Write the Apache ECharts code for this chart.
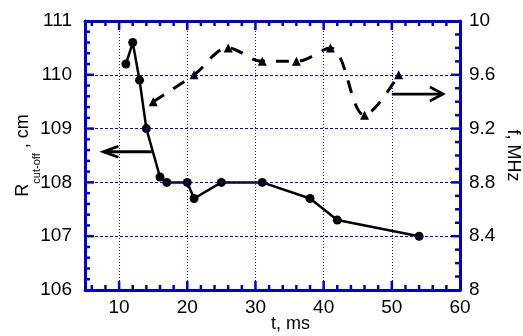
<!DOCTYPE html>
<html>
<head>
<meta charset="utf-8">
<script src="https://cdn.jsdelivr.net/npm/echarts@6/dist/echarts.min.js"></script>
<style>
html,body{margin:0;padding:0;background:#fff;}
#c{width:523px;height:336px;}
</style>
</head>
<body>
<div id="c"></div>
<script>
// ---- data ----
const tR = [11, 12, 13, 14, 16, 17, 20, 21, 25, 31, 38, 42, 54];
const R  = [110.2, 110.6, 109.9, 109.0, 108.1, 108.0, 108.0, 107.7, 108.0, 108.0, 107.7, 107.3, 107.0];
const tF = [15, 21, 26, 31, 36, 41, 46, 51];
const F  = [9.4, 9.6, 9.8, 9.7, 9.7, 9.8, 9.3, 9.6];
const xTickLabels = [10, 20, 30, 40, 50, 60];
const yLeftTickLabels = [106, 107, 108, 109, 110, 111];
const yRightTickLabels = [8, 8.4, 8.8, 9.2, 9.6, 10];
const xGridLines = [10, 20, 30, 40, 50];
const yGridLines = [107, 108, 109, 110];
const xMajorTicks = [10, 20, 30, 40, 50];
const yLeftMajorTicks = [107, 108, 109, 110];
const yRightMajorTicks = [8.4, 8.8, 9.2, 9.6];

const FONT = "'Liberation Sans', Arial, sans-serif";
const AX = '#0000d0';
const GRIDC = '#0000ff';
const X_MIN = 5, X_MAX = 60, YL_MIN = 106, YL_MAX = 111, YR_MIN = 8, YR_MAX = 10;

// minor tick positions (axis decoration only)
const xMinorTicks = [];
for (let v = 6; v < 60; v += 2) { if (v % 10 !== 0) xMinorTicks.push(v); }
const yLeftMinorTicks = [];
for (let i = 1; i < 25; i++) { if (i % 5 !== 0) yLeftMinorTicks.push(Math.round((106 + 0.2 * i) * 10) / 10); }
const yRightMinorTicks = [];
for (let i = 1; i < 20; i++) { if (i % 4 !== 0) yRightMinorTicks.push(Math.round((8 + 0.1 * i) * 10) / 10); }

const chart = echarts.init(document.getElementById('c'), null, {renderer: 'canvas'});

const gridMarks = [].concat(
  xGridLines.map(v => ({xAxis: v, lineStyle: {color: GRIDC, width: 1, type: [1, 2]}})),
  yGridLines.map(v => ({yAxis: v, lineStyle: {color: GRIDC, width: 1, type: [3, 2]}}))
);

const option = {
  animation: false,
  backgroundColor: '#fff',
  grid: {left: 85, right: 63, top: 21, bottom: 46, containLabel: false, outerBoundsMode: 'none'},
  xAxis: [
    {
      type: 'value', position: 'bottom', min: X_MIN, max: X_MAX, splitNumber: 5,
      axisLine: {show: true, onZero: false, lineStyle: {color: AX, width: 3}},
      axisTick: {show: false}, minorTick: {show: false},
      axisLabel: {show: true, margin: 8, color: '#000', fontSize: 19, fontFamily: FONT,
        formatter: v => xTickLabels.indexOf(v) >= 0 ? String(v) : ''},
      splitLine: {show: false},
      name: 't, ms', nameLocation: 'middle', nameGap: 25, nameMoveOverlap: false,
      nameTextStyle: {color: '#000', fontSize: 18, fontFamily: FONT, padding: [0, 0, 0, 36]}
    },
    {
      type: 'value', position: 'top', min: X_MIN, max: X_MAX, splitNumber: 5,
      axisLine: {show: true, onZero: false, lineStyle: {color: AX, width: 3}},
      axisTick: {show: false}, minorTick: {show: false},
      axisLabel: {show: false}, splitLine: {show: false}
    }
  ],
  yAxis: [
    {
      type: 'value', position: 'left', min: YL_MIN, max: YL_MAX, interval: 1,
      axisLine: {show: true, onZero: false, lineStyle: {color: AX, width: 3}},
      axisTick: {show: false}, minorTick: {show: false},
      axisLabel: {margin: 13, color: '#000', fontSize: 19, fontFamily: FONT,
        formatter: v => yLeftTickLabels.indexOf(v) >= 0 ? String(v) : ''},
      splitLine: {show: false},
      name: '{r|R}{s|cut-off}{r| , cm}',
      nameLocation: 'middle', nameGap: 43, nameMoveOverlap: false,
      nameTextStyle: {
        color: '#000', fontFamily: FONT,
        rich: {
          r: {fontSize: 18, fontFamily: FONT, color: '#000', lineHeight: 28, verticalAlign: 'top'},
          s: {fontSize: 11, fontFamily: FONT, color: '#000', lineHeight: 12, verticalAlign: 'bottom'}
        }
      }
    },
    {
      type: 'value', position: 'right', min: YR_MIN, max: YR_MAX, interval: 0.4,
      axisLine: {show: true, onZero: false, lineStyle: {color: AX, width: 3}},
      axisTick: {show: false}, minorTick: {show: false},
      axisLabel: {margin: 9, color: '#000', fontSize: 19, fontFamily: FONT,
        formatter: v => {
          const m = yRightTickLabels.find(t => Math.abs(t - v) < 1e-6);
          return m === undefined ? '' : String(m);
        }},
      splitLine: {show: false},
      name: 'f, MHz', nameLocation: 'middle', nameGap: 44, nameRotate: -90, nameMoveOverlap: false,
      nameTextStyle: {color: '#000', fontSize: 18, fontFamily: FONT}
    }
  ],
  series: [
    {
      name: 'R', type: 'line', xAxisIndex: 0, yAxisIndex: 0,
      data: tR.map((t, i) => [t, R[i]]),
      symbol: 'circle', symbolSize: 9,
      itemStyle: {color: '#000'},
      lineStyle: {color: '#000', width: 2.5},
      markLine: {
        silent: true, symbol: ['none', 'none'], label: {show: false},
        emphasis: {disabled: true}, animation: false,
        data: gridMarks
      },
      z: 3
    },
    {
      name: 'f', type: 'line', xAxisIndex: 0, yAxisIndex: 1,
      data: tF.map((t, i) => [t, F[i]]),
      symbol: 'triangle', symbolSize: 9,
      smooth: 0.35,
      itemStyle: {color: '#000'},
      lineStyle: {color: '#000', width: 3, type: [13, 11]},
      z: 3
    }
  ]
};
chart.setOption(option);

// ---- inside ticks on all four sides, placed through the axes' own scales ----
const MAJ = 9, MIN = 5;
const tickStyle = {stroke: AX, lineWidth: 2.5, lineCap: 'butt'};
function px(yIdx, pt) { return chart.convertToPixel({xAxisIndex: 0, yAxisIndex: yIdx}, pt); }
const tickEls = [];
function addLine(x1, y1, x2, y2) {
  tickEls.push({type: 'line', silent: true, z: 20, shape: {x1: x1, y1: y1, x2: x2, y2: y2}, style: tickStyle});
}
function xTicks(vals, len) {
  vals.forEach(v => {
    const b = px(0, [v, YL_MIN]);
    const t = px(0, [v, YL_MAX]);
    addLine(b[0], b[1], b[0], b[1] - len);
    addLine(t[0], t[1], t[0], t[1] + len);
  });
}
function yLeftTicks(vals, len) {
  vals.forEach(v => { const p = px(0, [X_MIN, v]); addLine(p[0], p[1], p[0] + len, p[1]); });
}
function yRightTicks(vals, len) {
  vals.forEach(v => { const p = px(1, [X_MAX, v]); addLine(p[0], p[1], p[0] - len, p[1]); });
}
xTicks(xMajorTicks, MAJ); xTicks(xMinorTicks, MIN);
yLeftTicks(yLeftMajorTicks, MAJ); yLeftTicks(yLeftMinorTicks, MIN);
yRightTicks(yRightMajorTicks, MAJ); yRightTicks(yRightMinorTicks, MIN);

// arrows pointing to the axis each curve belongs to (positions in data space)
function arrow(from, to, yIdx, headLen, headHalf) {
  const a = px(yIdx, from);
  const b = px(yIdx, to);
  const dx = b[0] - a[0], dy = b[1] - a[1];
  const L = Math.sqrt(dx * dx + dy * dy);
  const ux = dx / L, uy = dy / L, nx = -uy, ny = ux;
  const h1 = [b[0] - ux * headLen + nx * headHalf, b[1] - uy * headLen + ny * headHalf];
  const h2 = [b[0] - ux * headLen - nx * headHalf, b[1] - uy * headLen - ny * headHalf];
  const st = {stroke: '#000', lineWidth: 2.8, fill: null, lineJoin: 'miter', lineCap: 'butt'};
  return [
    {type: 'polyline', shape: {points: [a, b]}, style: st, z: 10},
    {type: 'polyline', shape: {points: [h1, b, h2]}, style: st, z: 10}
  ];
}
chart.setOption({
  graphic: [].concat(
    tickEls,
    arrow([14.8, 108.57], [7.7, 108.57], 0, 15, 5.5),
    arrow([50.0, 9.457], [57.5, 9.457], 1, 13, 7)
  )
});
</script>
</body>
</html>
